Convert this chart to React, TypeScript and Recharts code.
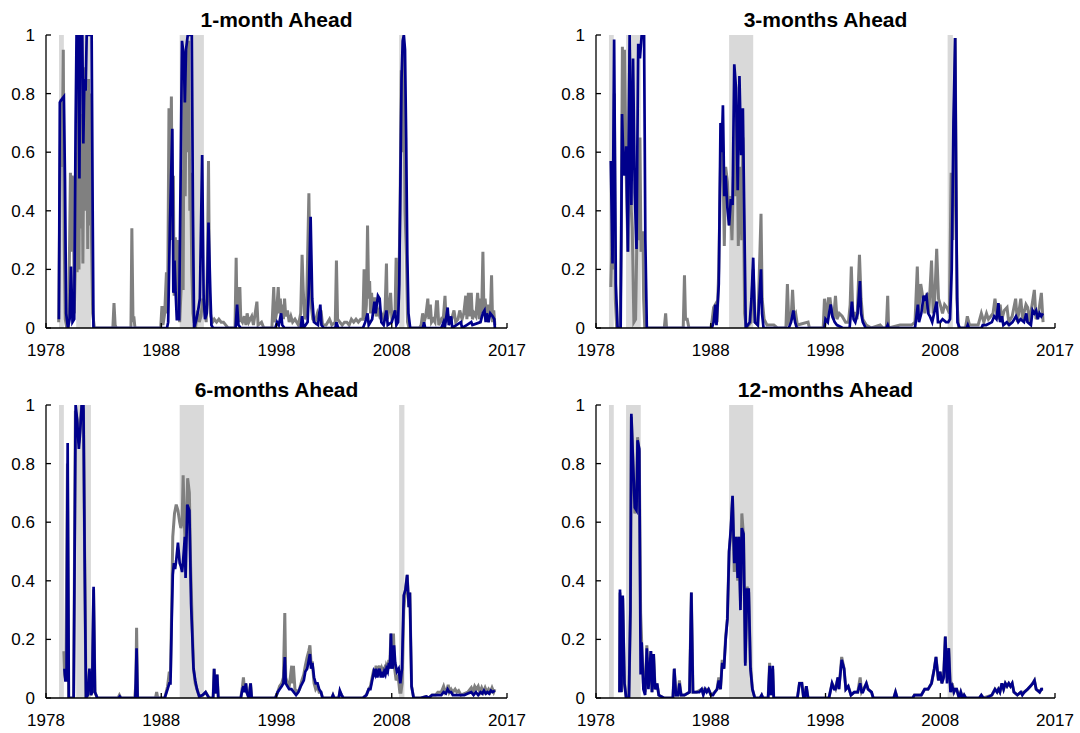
import React from "react";
import { LineChart, Line, XAxis, YAxis, ReferenceArea } from "recharts";

type Pt = [number, number];

const X_TICKS = [1978, 1988, 1998, 2008, 2018];
const X_LABELS = ["1978", "1988", "1998", "2008", "2017"];
const Y_TICKS = [0, 0.2, 0.4, 0.6, 0.8, 1];
const Y_LABELS = ["0", "0.2", "0.4", "0.6", "0.8", "1"];

// shaded recession periods (start, end)
const RECESSIONS: Pt[] = [
  [1979.13, 1979.55],
  [1980.62, 1981.9],
  [1989.6, 1991.7],
  [2008.64, 2009.1],
];

const TITLES = ["1-month Ahead", "3-months Ahead", "6-months Ahead", "12-months Ahead"];

// 1-month ahead
const grey1m: Pt[] = [
  [1979.1, 0.02], [1979.2, 0.45], [1979.3, 0.78], [1979.4, 0.55], [1979.5, 0.95], [1979.58, 0.3], [1979.67, 0.03], [1979.8, 0], [1979.95, 0],
  [1980.05, 0.3], [1980.12, 0.53], [1980.2, 0.26], [1980.28, 0.52], [1980.37, 0.49], [1980.45, 0.05], [1980.53, 0.18], [1980.62, 0.6], [1980.7, 0.19],
  [1980.78, 0.85], [1980.86, 0.2], [1980.95, 0.88], [1981.03, 0.34], [1981.11, 0.73], [1981.2, 0.22], [1981.28, 0.63], [1981.36, 0.89], [1981.45, 0.4],
  [1981.53, 0.81], [1981.62, 0.27], [1981.7, 0.85], [1981.78, 0.35], [1981.87, 0.8], [1981.95, 0.3], [1982.05, 0.05], [1982.2, 0],
  [1983.8, 0], [1983.9, 0.085], [1984.0, 0.01], [1984.1, 0],
  [1985.37, 0], [1985.45, 0.34], [1985.55, 0.02], [1985.62, 0.04], [1985.72, 0],
  [1987.95, 0], [1988.06, 0.075], [1988.15, 0.01], [1988.3, 0.05], [1988.45, 0.19], [1988.55, 0.05], [1988.67, 0.75], [1988.75, 0.4], [1988.88, 0.79],
  [1988.96, 0.3], [1989.05, 0.52], [1989.12, 0.11], [1989.22, 0.31], [1989.3, 0.13], [1989.4, 0.3], [1989.5, 0.05], [1989.6, 0.02], [1989.72, 0.13],
  [1989.82, 0.54], [1989.9, 0.13], [1989.98, 0.87], [1990.08, 0.45], [1990.18, 0.95], [1990.28, 0.6], [1990.38, 0.98], [1990.48, 0.4], [1990.55, 0.53],
  [1990.65, 0.2], [1990.75, 0.05], [1990.85, 0.02], [1991.0, 0.01], [1991.15, 0.06], [1991.3, 0.02], [1991.45, 0.04], [1991.6, 0.1], [1991.75, 0.07],
  [1991.9, 0.02], [1992.02, 0.25], [1992.1, 0.57], [1992.2, 0.08], [1992.3, 0.04], [1992.45, 0.02], [1992.6, 0.03], [1992.8, 0.02], [1993.0, 0.03],
  [1993.2, 0.02], [1993.4, 0.02], [1993.6, 0.01], [1993.8, 0],
  [1994.4, 0], [1994.5, 0.24], [1994.58, 0.03], [1994.66, 0.14], [1994.74, 0.02], [1994.82, 0.14], [1994.9, 0.03], [1995.05, 0.02], [1995.2, 0.04],
  [1995.35, 0.01], [1995.45, 0.05], [1995.6, 0.02], [1995.85, 0.04], [1996.0, 0.01], [1996.3, 0.09], [1996.4, 0.01], [1996.7, 0.02], [1996.9, 0],
  [1997.6, 0], [1997.76, 0.14], [1997.86, 0.02], [1998.0, 0.05], [1998.15, 0.14], [1998.25, 0.05], [1998.33, 0.1], [1998.42, 0.04], [1998.5, 0.08],
  [1998.6, 0.03], [1998.7, 0.1], [1998.8, 0.04], [1998.95, 0.06], [1999.1, 0.02], [1999.25, 0.04], [1999.4, 0.02], [1999.6, 0.03], [1999.9, 0.01],
  [2000.1, 0.05], [2000.22, 0.25], [2000.32, 0.13], [2000.45, 0.03], [2000.6, 0.05], [2000.81, 0.46], [2000.92, 0.15], [2001.0, 0.08], [2001.15, 0.03],
  [2001.35, 0.02], [2001.55, 0.05], [2001.7, 0.03], [2001.86, 0.06], [2002.0, 0.01], [2002.3, 0.01], [2002.6, 0.03], [2002.8, 0.01], [2003.1, 0.02],
  [2003.2, 0.23], [2003.3, 0.03], [2003.5, 0.02], [2003.7, 0.01], [2003.9, 0.02], [2004.1, 0.02], [2004.3, 0.01], [2004.5, 0.03], [2004.7, 0.02],
  [2004.9, 0.03], [2005.1, 0.02], [2005.3, 0.03], [2005.5, 0.03], [2005.6, 0.2], [2005.7, 0.03], [2005.8, 0.08], [2005.9, 0.35], [2006.0, 0.1],
  [2006.08, 0.16], [2006.16, 0.05], [2006.25, 0.12], [2006.35, 0.05], [2006.45, 0.1], [2006.55, 0.1], [2006.65, 0.04], [2006.8, 0.06], [2006.95, 0.04],
  [2007.1, 0.05], [2007.3, 0.03], [2007.42, 0.06], [2007.54, 0.22], [2007.62, 0.03], [2007.75, 0.06], [2007.9, 0.12], [2008.0, 0.04], [2008.15, 0.05],
  [2008.28, 0.04], [2008.38, 0.24], [2008.48, 0.05], [2008.6, 0.1], [2008.72, 0.4], [2008.83, 0.88], [2008.95, 0.6], [2009.05, 0.95], [2009.15, 0.4],
  [2009.27, 0.25], [2009.37, 0.02], [2009.5, 0],
  [2010.4, 0], [2010.55, 0.01], [2010.68, 0.05], [2010.8, 0.02], [2010.95, 0.04], [2011.13, 0.1], [2011.22, 0.03], [2011.35, 0.08], [2011.45, 0.02],
  [2011.6, 0.03], [2011.75, 0.02], [2011.88, 0.09], [2011.97, 0.09], [2012.08, 0.01], [2012.3, 0.03], [2012.45, 0.02], [2012.62, 0.11], [2012.72, 0.02],
  [2012.9, 0.04], [2013.05, 0.02], [2013.2, 0.03], [2013.4, 0.06], [2013.55, 0.02], [2013.75, 0.03], [2013.9, 0.06], [2014.1, 0.03], [2014.25, 0.05],
  [2014.42, 0.11], [2014.52, 0.03], [2014.65, 0.12], [2014.75, 0.04], [2014.9, 0.12], [2015.0, 0.03], [2015.15, 0.05], [2015.3, 0.04], [2015.45, 0.12],
  [2015.6, 0.03], [2015.7, 0.1], [2015.8, 0.05], [2015.91, 0.26], [2016.0, 0.05], [2016.1, 0.1], [2016.25, 0.03], [2016.4, 0.08], [2016.55, 0.04],
  [2016.66, 0.18], [2016.75, 0.02], [2016.85, 0.06], [2016.95, 0.01],
];

const blue1m: Pt[] = [
  [1979.12, 0.03], [1979.2, 0.77], [1979.35, 0.78], [1979.55, 0.79], [1979.65, 0.5], [1979.75, 0.05], [1979.9, 0], [1980.05, 0.03], [1980.17, 0.21],
  [1980.3, 0.02], [1980.45, 0.03], [1980.57, 0.7], [1980.65, 1], [1980.8, 1], [1980.9, 0.51], [1980.97, 1], [1981.15, 1], [1981.24, 0.63],
  [1981.33, 0.85], [1981.44, 0.81], [1981.53, 1], [1981.96, 1], [1982.05, 0.4], [1982.12, 0],
  [1988.5, 0], [1988.6, 0.02], [1988.75, 0.35], [1988.96, 0.68], [1989.05, 0.12], [1989.15, 0.23], [1989.25, 0.12], [1989.35, 0.03], [1989.55, 0.03],
  [1989.7, 0.6], [1989.8, 0.98], [1989.95, 0.93], [1990.05, 0.77], [1990.15, 0.95], [1990.3, 1], [1990.65, 1], [1990.75, 0.4], [1990.85, 0],
  [1991.05, 0.03], [1991.2, 0.06], [1991.35, 0.1], [1991.55, 0.59], [1991.68, 0.1], [1991.8, 0.03], [1991.95, 0.05], [1992.1, 0.36], [1992.26, 0.12],
  [1992.35, 0.01], [1992.5, 0],
  [1994.45, 0], [1994.58, 0.08], [1994.7, 0.01], [1994.9, 0],
  [1997.9, 0], [1998.05, 0.02], [1998.2, 0.01], [1998.4, 0.05], [1998.5, 0.01], [1998.7, 0],
  [2000.1, 0], [2000.22, 0.04], [2000.35, 0], [2000.7, 0.02], [2000.82, 0.15], [2000.96, 0.38], [2001.1, 0.1], [2001.25, 0.02], [2001.6, 0.01],
  [2001.8, 0.08], [2001.9, 0.01], [2002.1, 0],
  [2003.1, 0], [2003.2, 0.02], [2003.35, 0],
  [2005.5, 0], [2005.7, 0.02], [2005.9, 0.05], [2006.0, 0.01], [2006.3, 0.03], [2006.5, 0.09], [2006.6, 0.05], [2006.8, 0.11], [2006.95, 0.1],
  [2007.1, 0.02], [2007.3, 0.01], [2007.54, 0.06], [2007.65, 0.01], [2008.0, 0.02], [2008.29, 0.06], [2008.4, 0.01], [2008.55, 0.02], [2008.65, 0.15],
  [2008.75, 0.5], [2008.85, 0.85], [2008.95, 0.98], [2009.05, 1], [2009.15, 0.95], [2009.25, 0.65], [2009.35, 0.25], [2009.45, 0.05], [2009.6, 0],
  [2010.7, 0], [2010.8, 0.02], [2010.9, 0], [2012.3, 0], [2012.5, 0.02], [2012.6, 0], [2012.85, 0.07], [2012.95, 0.01], [2013.15, 0.04], [2013.25, 0],
  [2013.6, 0.01], [2014.0, 0.02], [2014.1, 0], [2014.5, 0.01], [2014.9, 0.02], [2015.0, 0.01], [2015.7, 0.02], [2015.9, 0.05], [2016.05, 0.06],
  [2016.15, 0.02], [2016.25, 0.05], [2016.4, 0.02], [2016.55, 0.05], [2016.75, 0.04], [2016.9, 0.03], [2016.95, 0],
];

// 3-months ahead
const grey3m: Pt[] = [
  [1979.29, 0.14], [1979.36, 0.25], [1979.44, 0.57], [1979.52, 0.2], [1979.6, 0.8], [1979.68, 0.1], [1979.8, 0], [1980.1, 0], [1980.2, 0.3],
  [1980.3, 0.96], [1980.4, 0.6], [1980.48, 0.95], [1980.63, 0.53], [1980.78, 0.26], [1980.86, 0.7], [1980.93, 0.95], [1981.0, 0.5], [1981.08, 0.4],
  [1981.16, 0.34], [1981.3, 0.02], [1981.45, 0.03], [1981.62, 0.44], [1981.72, 0.3], [1981.83, 0.65], [1981.92, 0.26], [1982.08, 0.33], [1982.15, 0.1],
  [1982.25, 0],
  [1983.95, 0], [1984.07, 0.05], [1984.15, 0], [1985.6, 0], [1985.71, 0.18], [1985.8, 0.03], [1985.95, 0.03], [1986.1, 0],
  [1988.0, 0], [1988.1, 0.02], [1988.25, 0.07], [1988.4, 0.08], [1988.55, 0.02], [1988.7, 0.2], [1988.85, 0.55], [1988.95, 0.7], [1989.06, 0.6],
  [1989.18, 0.28], [1989.3, 0.55], [1989.45, 0.5], [1989.6, 0.35], [1989.7, 0.45], [1989.85, 0.3], [1990.0, 0.55], [1990.1, 0.45], [1990.28, 0.75],
  [1990.4, 0.28], [1990.55, 0.55], [1990.7, 0.3], [1990.8, 0.65], [1990.95, 0.05], [1991.1, 0],
  [1991.5, 0.02], [1991.7, 0.2], [1991.85, 0.02], [1992.1, 0.01], [1992.38, 0.39], [1992.48, 0.1], [1992.65, 0.03], [1992.9, 0.01], [1993.5, 0.01],
  [1993.8, 0],
  [1994.55, 0], [1994.68, 0.15], [1994.8, 0.02], [1995.0, 0.03], [1995.13, 0.13], [1995.25, 0.04], [1995.4, 0.05], [1995.55, 0.01], [1996.48, 0.02],
  [1996.6, 0],
  [1997.8, 0], [1997.91, 0.1], [1998.05, 0.03], [1998.25, 0.1], [1998.4, 0.1], [1998.55, 0.05], [1998.7, 0.03], [1998.87, 0.11], [1999.0, 0.03],
  [1999.2, 0.05], [1999.45, 0.04], [1999.75, 0.02], [2000.0, 0.02], [2000.15, 0.08], [2000.25, 0.21], [2000.38, 0.05], [2000.55, 0.05], [2000.75, 0.03],
  [2000.96, 0.25], [2001.1, 0.1], [2001.25, 0.03], [2001.55, 0.01], [2002.0, 0],
  [2002.76, 0.01], [2003.0, 0], [2003.3, 0], [2003.42, 0.11], [2003.5, 0], [2004.5, 0.01], [2005.0, 0.01], [2005.5, 0.01], [2005.8, 0.02],
  [2006.0, 0.21], [2006.12, 0.05], [2006.3, 0.15], [2006.5, 0.1], [2006.65, 0.05], [2006.85, 0.12], [2007.0, 0.05], [2007.24, 0.23], [2007.38, 0.05],
  [2007.5, 0.08], [2007.69, 0.27], [2007.85, 0.1], [2008.0, 0.08], [2008.2, 0.05], [2008.38, 0.08], [2008.58, 0.07], [2008.8, 0.05], [2008.95, 0.53],
  [2009.1, 0.3], [2009.3, 0.99], [2009.45, 0.1], [2009.6, 0],
  [2010.2, 0], [2010.36, 0.04], [2010.55, 0.01], [2011.3, 0.01], [2011.58, 0.05], [2011.8, 0.02], [2012.03, 0.05], [2012.2, 0.03], [2012.6, 0.05],
  [2012.77, 0.1], [2012.98, 0.03], [2013.22, 0.08], [2013.37, 0.03], [2013.58, 0.06], [2013.82, 0.07], [2013.97, 0.02], [2014.27, 0.04],
  [2014.57, 0.1], [2014.72, 0.02], [2015.02, 0.1], [2015.17, 0.03], [2015.47, 0.08], [2015.62, 0.07], [2015.77, 0.02], [2016.2, 0.13],
  [2016.35, 0.03], [2016.56, 0.05], [2016.81, 0.12], [2016.96, 0.02],
];

const blue3m: Pt[] = [
  [1979.29, 0.57], [1979.44, 0.22], [1979.58, 0.985], [1979.73, 0.15], [1979.88, 0], [1980.15, 0], [1980.27, 0.73], [1980.4, 0.55], [1980.48, 0.52],
  [1980.63, 0.62], [1980.78, 0.26], [1980.93, 1], [1981.08, 0.42], [1981.23, 0.92], [1981.38, 0.46], [1981.53, 0.27], [1981.68, 0.97], [1981.83, 0.92],
  [1981.98, 1], [1982.19, 1], [1982.3, 0.3], [1982.43, 0],
  [1988.1, 0], [1988.25, 0.02], [1988.4, 0.08], [1988.5, 0.01], [1988.7, 0.15], [1988.85, 0.7], [1988.95, 0.6], [1989.06, 0.76], [1989.18, 0.45],
  [1989.3, 0.52], [1989.45, 0.41], [1989.6, 0.35], [1989.75, 0.44], [1989.9, 0.42], [1990.05, 0.9], [1990.2, 0.82], [1990.35, 0.47], [1990.5, 0.86],
  [1990.65, 0.59], [1990.8, 0.75], [1990.95, 0.3], [1991.05, 0], [1991.4, 0.02], [1991.55, 0.1], [1991.7, 0.24], [1991.85, 0.02], [1992.1, 0.01],
  [1992.38, 0.2], [1992.47, 0.05], [1992.6, 0],
  [1994.8, 0], [1995.0, 0.02], [1995.2, 0.06], [1995.35, 0.02], [1995.5, 0],
  [1997.9, 0], [1998.0, 0.03], [1998.2, 0.02], [1998.35, 0.06], [1998.45, 0.08], [1998.6, 0.04], [1998.8, 0.02], [1999.0, 0.01], [1999.5, 0],
  [2000.1, 0], [2000.3, 0.09], [2000.45, 0.03], [2000.6, 0.02], [2000.8, 0.05], [2001.0, 0.16], [2001.1, 0.05], [2001.25, 0.02], [2001.5, 0],
  [2003.3, 0], [2003.42, 0.01], [2003.5, 0],
  [2005.8, 0], [2006.05, 0.08], [2006.15, 0.02], [2006.35, 0.05], [2006.55, 0.11], [2006.65, 0.1], [2006.8, 0.11], [2006.95, 0.05], [2007.1, 0.04],
  [2007.3, 0.02], [2007.69, 0.09], [2007.8, 0.02], [2008.0, 0.02], [2008.2, 0.03], [2008.5, 0.02], [2008.7, 0.02], [2008.85, 0.03], [2009.0, 0.2],
  [2009.15, 0.7], [2009.3, 0.99], [2009.42, 0.3], [2009.5, 0.02], [2009.7, 0],
  [2010.3, 0], [2010.4, 0.01], [2010.5, 0], [2011.6, 0], [2011.7, 0.01], [2012.0, 0.01], [2012.5, 0.02], [2012.7, 0.04], [2012.9, 0.03],
  [2013.07, 0.085], [2013.15, 0.04], [2013.22, 0.02], [2013.37, 0.04], [2013.5, 0.01], [2013.8, 0.02], [2014.0, 0.01], [2014.3, 0.02], [2014.6, 0.04],
  [2014.8, 0.02], [2015.0, 0.03], [2015.3, 0.02], [2015.5, 0.05], [2015.6, 0.02], [2015.9, 0.01], [2016.05, 0.06], [2016.2, 0.05], [2016.35, 0.06],
  [2016.5, 0.03], [2016.65, 0.05], [2016.8, 0.04], [2016.95, 0.05],
];

// 6-months ahead
const grey6m: Pt[] = [
  [1979.55, 0.16], [1979.62, 0.08], [1979.72, 0.06], [1979.86, 0.8], [1979.96, 0], [1980.4, 0], [1980.55, 0.98], [1980.7, 0.95], [1980.85, 0.87],
  [1980.95, 0.92], [1981.1, 1], [1981.25, 0.98], [1981.35, 0.5], [1981.47, 0], [1981.62, 0.01], [1981.77, 0.09], [1981.9, 0.01], [1982.0, 0.02],
  [1982.13, 0.37], [1982.25, 0.02], [1982.45, 0],
  [1984.25, 0], [1984.37, 0.01], [1984.5, 0], [1985.7, 0], [1985.8, 0.05], [1985.86, 0.24], [1985.95, 0], [1987.5, 0], [1987.6, 0.02], [1987.7, 0],
  [1988.3, 0], [1988.55, 0.04], [1988.7, 0.09], [1988.8, 0.07], [1988.9, 0.3], [1989.0, 0.55], [1989.15, 0.63], [1989.3, 0.66], [1989.45, 0.64],
  [1989.6, 0.6], [1989.7, 0.58], [1989.81, 0.6], [1989.9, 0.76], [1990.0, 0.6], [1990.11, 0.5], [1990.2, 0.62], [1990.29, 0.75], [1990.44, 0.7],
  [1990.55, 0.45], [1990.71, 0.22], [1990.8, 0.1], [1990.95, 0.05], [1991.1, 0.03], [1991.3, 0.005], [1991.6, 0.01], [1991.85, 0.02], [1992.0, 0.01],
  [1992.15, 0],
  [1992.5, 0], [1992.59, 0.1], [1992.67, 0.02], [1992.74, 0.02], [1992.85, 0.08], [1992.95, 0],
  [1994.9, 0], [1995.05, 0.04], [1995.13, 0.07], [1995.22, 0.03], [1995.34, 0.05], [1995.42, 0.02], [1995.6, 0], [1995.75, 0.05], [1995.85, 0],
  [1997.9, 0], [1998.1, 0.02], [1998.27, 0.04], [1998.45, 0.05], [1998.6, 0.07], [1998.72, 0.29], [1998.8, 0.07], [1998.95, 0.05], [1999.1, 0.04],
  [1999.2, 0.07], [1999.32, 0.11], [1999.4, 0.05], [1999.47, 0.11], [1999.6, 0.03], [1999.8, 0.02], [2000.0, 0.03], [2000.2, 0.06], [2000.37, 0.08],
  [2000.5, 0.11], [2000.66, 0.14], [2000.8, 0.16], [2000.9, 0.18], [2001.0, 0.12], [2001.11, 0.12], [2001.26, 0.05], [2001.4, 0.03], [2001.56, 0.04],
  [2001.7, 0.02], [2001.86, 0.02], [2002.0, 0],
  [2002.8, 0], [2002.9, 0.01], [2003.0, 0], [2003.4, 0], [2003.5, 0.02], [2003.65, 0.01], [2003.8, 0],
  [2005.5, 0], [2005.8, 0.01], [2006.0, 0.03], [2006.15, 0.04], [2006.3, 0.07], [2006.45, 0.1], [2006.55, 0.08], [2006.64, 0.11], [2006.75, 0.09],
  [2006.85, 0.1], [2006.94, 0.11], [2007.05, 0.08], [2007.15, 0.1], [2007.24, 0.09], [2007.35, 0.1], [2007.45, 0.08], [2007.54, 0.11], [2007.65, 0.1],
  [2007.75, 0.13], [2007.84, 0.12], [2007.93, 0.22], [2008.0, 0.18], [2008.08, 0.14], [2008.15, 0.22], [2008.25, 0.1], [2008.38, 0.06], [2008.48, 0.07],
  [2008.59, 0.06], [2008.7, 0.02], [2008.8, 0.02], [2008.9, 0.05], [2009.04, 0.3], [2009.19, 0.37], [2009.34, 0.42], [2009.48, 0.31], [2009.57, 0.36],
  [2009.72, 0.04], [2009.9, 0],
  [2010.5, 0], [2011.0, 0.005], [2011.2, 0], [2011.5, 0.01], [2011.8, 0.01], [2012.0, 0.02], [2012.3, 0.02], [2012.5, 0.04], [2012.65, 0.02],
  [2012.8, 0.03], [2012.9, 0.045], [2013.0, 0.02], [2013.15, 0.03], [2013.3, 0.02], [2013.5, 0.03], [2013.65, 0.02], [2013.8, 0.025], [2014.0, 0.01],
  [2014.3, 0.015], [2014.6, 0.02], [2014.8, 0.03], [2014.9, 0.035], [2015.05, 0.02], [2015.2, 0.04], [2015.35, 0.03], [2015.5, 0.04], [2015.65, 0.02],
  [2015.8, 0.035], [2015.95, 0.02], [2016.1, 0.035], [2016.25, 0.02], [2016.4, 0.03], [2016.55, 0.02], [2016.7, 0.035], [2016.85, 0.02], [2016.95, 0.03],
];

const blue6m: Pt[] = [
  [1979.6, 0.1], [1979.68, 0.06], [1979.78, 0.06], [1979.88, 0.87], [1979.98, 0], [1980.4, 0], [1980.57, 1], [1980.7, 0.95], [1980.85, 0.85],
  [1980.95, 0.9], [1981.1, 1], [1981.25, 1], [1981.35, 0.5], [1981.47, 0], [1981.62, 0.01], [1981.77, 0.1], [1981.9, 0.01], [1982.0, 0.02],
  [1982.13, 0.38], [1982.25, 0.02], [1982.45, 0],
  [1984.3, 0], [1984.4, 0.005], [1984.5, 0], [1985.75, 0], [1985.86, 0.17], [1985.95, 0],
  [1988.3, 0], [1988.55, 0.03], [1988.7, 0.05], [1988.8, 0.05], [1988.9, 0.25], [1989.0, 0.42], [1989.1, 0.46], [1989.2, 0.44], [1989.3, 0.47],
  [1989.45, 0.53], [1989.6, 0.46], [1989.7, 0.45], [1989.81, 0.43], [1989.9, 0.47], [1990.05, 0.55], [1990.11, 0.41], [1990.26, 0.66], [1990.44, 0.64],
  [1990.59, 0.32], [1990.8, 0.1], [1990.95, 0.06], [1991.1, 0.03], [1991.3, 0.005], [1991.6, 0.01], [1991.85, 0.02], [1992.0, 0.01], [1992.15, 0],
  [1992.5, 0], [1992.59, 0.1], [1992.67, 0.02], [1992.74, 0.02], [1992.85, 0.08], [1992.95, 0],
  [1994.9, 0], [1995.05, 0.03], [1995.13, 0.04], [1995.22, 0.02], [1995.34, 0.05], [1995.42, 0.02], [1995.6, 0], [1995.75, 0.05], [1995.85, 0],
  [1997.9, 0], [1998.1, 0.02], [1998.27, 0.03], [1998.45, 0.04], [1998.6, 0.05], [1998.72, 0.14], [1998.8, 0.05], [1998.95, 0.04], [1999.1, 0.03],
  [1999.3, 0.03], [1999.5, 0.02], [1999.7, 0.01], [1999.9, 0.02], [2000.1, 0.04], [2000.37, 0.06], [2000.5, 0.09], [2000.66, 0.1], [2000.8, 0.13],
  [2000.9, 0.15], [2001.0, 0.1], [2001.11, 0.12], [2001.26, 0.07], [2001.4, 0.05], [2001.56, 0.05], [2001.7, 0.03], [2001.86, 0.02], [2002.0, 0],
  [2002.8, 0], [2002.9, 0.01], [2003.0, 0], [2003.4, 0], [2003.5, 0.025], [2003.65, 0.01], [2003.8, 0],
  [2005.5, 0], [2005.8, 0.01], [2006.0, 0.03], [2006.15, 0.03], [2006.3, 0.06], [2006.45, 0.09], [2006.55, 0.08], [2006.64, 0.1], [2006.75, 0.07],
  [2006.85, 0.09], [2006.94, 0.1], [2007.05, 0.07], [2007.15, 0.09], [2007.24, 0.07], [2007.35, 0.09], [2007.45, 0.08], [2007.54, 0.1], [2007.65, 0.09],
  [2007.75, 0.12], [2007.84, 0.1], [2007.93, 0.22], [2008.0, 0.12], [2008.08, 0.1], [2008.2, 0.18], [2008.3, 0.12], [2008.45, 0.09], [2008.6, 0.1],
  [2008.74, 0.05], [2008.89, 0.1], [2009.04, 0.35], [2009.19, 0.37], [2009.34, 0.42], [2009.48, 0.31], [2009.57, 0.36], [2009.72, 0.04], [2009.9, 0],
  [2010.5, 0], [2011.0, 0.005], [2011.2, 0], [2011.5, 0.01], [2011.8, 0.01], [2012.0, 0.01], [2012.3, 0.01], [2012.5, 0.02], [2012.7, 0.015],
  [2012.85, 0.03], [2013.0, 0.02], [2013.15, 0.02], [2013.3, 0.01], [2013.6, 0.01], [2013.8, 0.01], [2014.0, 0.01], [2014.3, 0.01], [2014.6, 0.015],
  [2014.9, 0.02], [2015.1, 0.01], [2015.3, 0.02], [2015.5, 0.01], [2015.7, 0.02], [2015.85, 0.015], [2016.0, 0.025], [2016.15, 0.015], [2016.3, 0.02],
  [2016.45, 0.015], [2016.6, 0.025], [2016.75, 0.02], [2016.95, 0.025],
];

// 12-months ahead
const grey12m: Pt[] = [
  [1980.05, 0.02], [1980.09, 0.36], [1980.21, 0.02], [1980.33, 0.34], [1980.48, 0.05], [1980.63, 0], [1980.87, 0], [1981.0, 0.3], [1981.08, 0.96],
  [1981.23, 0.8], [1981.38, 0.63], [1981.53, 0.66], [1981.62, 0.89], [1981.77, 0.84], [1981.89, 0.29], [1981.98, 0.19], [1982.13, 0.05], [1982.28, 0.02],
  [1982.43, 0.18], [1982.57, 0.04], [1982.78, 0.16], [1982.88, 0.02], [1983.02, 0.15], [1983.15, 0.03], [1983.32, 0.05], [1983.47, 0.01], [1983.92, 0],
  [1984.7, 0], [1984.82, 0.1], [1984.97, 0.01], [1985.15, 0.01], [1985.27, 0.06], [1985.42, 0.01], [1985.71, 0.01], [1986.15, 0.02], [1986.31, 0.36],
  [1986.45, 0.02], [1986.76, 0.02], [1987.21, 0.03], [1987.51, 0.03], [1987.81, 0.03], [1988.02, 0.01], [1988.35, 0.02], [1988.55, 0.03], [1988.7, 0.07],
  [1988.85, 0.03], [1989.0, 0.13], [1989.15, 0.1], [1989.3, 0.21], [1989.45, 0.27], [1989.6, 0.5], [1989.75, 0.56], [1989.9, 0.68], [1990.05, 0.43],
  [1990.2, 0.55], [1990.35, 0.4], [1990.45, 0.55], [1990.59, 0.33], [1990.71, 0.63], [1990.86, 0.55], [1991.01, 0.12], [1991.16, 0.38], [1991.31, 0.36],
  [1991.46, 0.11], [1991.63, 0.03], [1991.84, 0],
  [1992.3, 0], [1992.44, 0.01], [1992.55, 0], [1993.0, 0], [1993.13, 0.12], [1993.25, 0.01], [1993.4, 0.1], [1993.49, 0],
  [1995.55, 0], [1995.73, 0.05], [1995.94, 0.05], [1996.09, 0], [1996.33, 0.04], [1996.48, 0],
  [1998.3, 0], [1998.57, 0.05], [1998.87, 0.03], [1999.08, 0.07], [1999.17, 0.03], [1999.41, 0.14], [1999.62, 0.1], [1999.77, 0.03], [1999.98, 0.04],
  [2000.22, 0.01], [2000.51, 0.02], [2000.81, 0.02], [2001.02, 0.07], [2001.15, 0.02], [2001.45, 0.04], [2001.56, 0.05], [2001.71, 0.03], [2002.01, 0.02],
  [2002.16, 0],
  [2003.95, 0], [2004.1, 0.02], [2004.25, 0],
  [2005.6, 0], [2005.75, 0.01], [2006.35, 0.01], [2006.64, 0.03], [2006.94, 0.03], [2007.24, 0.05], [2007.48, 0.1], [2007.63, 0.14], [2007.84, 0.06],
  [2007.99, 0.09], [2008.14, 0.05], [2008.29, 0.07], [2008.44, 0.21], [2008.59, 0.07], [2008.74, 0.17], [2008.89, 0.03], [2009.04, 0.05], [2009.19, 0.02],
  [2009.3, 0.03], [2009.43, 0.03], [2009.64, 0], [2009.79, 0.02], [2009.95, 0], [2010.08, 0.01], [2010.23, 0],
  [2011.4, 0], [2011.58, 0.01], [2011.75, 0], [2012.5, 0.01], [2012.77, 0.03], [2012.95, 0.02], [2013.07, 0.03], [2013.2, 0.02], [2013.37, 0.05],
  [2013.52, 0.03], [2013.67, 0.05], [2013.82, 0.04], [2013.97, 0.05], [2014.12, 0.04], [2014.27, 0.05], [2014.42, 0.02], [2014.72, 0.01], [2015.02, 0.02],
  [2015.32, 0.02], [2015.61, 0.03], [2015.85, 0.04], [2016.06, 0.05], [2016.21, 0.06], [2016.36, 0.03], [2016.66, 0.02], [2016.81, 0.03], [2016.96, 0.03],
];

const blue12m: Pt[] = [
  [1980.05, 0.02], [1980.09, 0.37], [1980.21, 0.02], [1980.33, 0.35], [1980.48, 0.05], [1980.63, 0], [1980.87, 0], [1981.0, 0.3], [1981.08, 0.97],
  [1981.23, 0.8], [1981.38, 0.65], [1981.53, 0.64], [1981.62, 0.88], [1981.77, 0.85], [1981.89, 0.08], [1981.98, 0.19], [1982.13, 0.03], [1982.28, 0.01],
  [1982.43, 0.17], [1982.57, 0.03], [1982.78, 0.16], [1982.88, 0.02], [1983.02, 0.15], [1983.15, 0.03], [1983.32, 0.05], [1983.47, 0.01], [1983.92, 0],
  [1984.7, 0], [1984.82, 0.1], [1984.97, 0.01], [1985.15, 0.01], [1985.27, 0.05], [1985.42, 0.01], [1985.71, 0.01], [1986.15, 0.02], [1986.31, 0.36],
  [1986.45, 0.02], [1986.6, 0.02], [1986.76, 0.02], [1987.0, 0.02], [1987.21, 0.03], [1987.35, 0.01], [1987.51, 0.03], [1987.65, 0.02], [1987.81, 0.03],
  [1988.02, 0.01], [1988.2, 0.01], [1988.35, 0.02], [1988.55, 0.03], [1988.7, 0.06], [1988.85, 0.03], [1989.0, 0.12], [1989.15, 0.1], [1989.3, 0.2],
  [1989.45, 0.27], [1989.6, 0.5], [1989.75, 0.58], [1989.9, 0.69], [1990.05, 0.46], [1990.2, 0.55], [1990.35, 0.41], [1990.45, 0.55], [1990.59, 0.3],
  [1990.71, 0.58], [1990.86, 0.56], [1991.01, 0.11], [1991.16, 0.37], [1991.31, 0.37], [1991.46, 0.1], [1991.63, 0.03], [1991.84, 0],
  [1992.3, 0], [1992.44, 0.01], [1992.55, 0], [1993.0, 0], [1993.13, 0.11], [1993.25, 0.01], [1993.4, 0.11], [1993.49, 0],
  [1995.55, 0], [1995.73, 0.05], [1995.94, 0.05], [1996.09, 0], [1996.2, 0], [1996.33, 0.04], [1996.48, 0],
  [1998.3, 0], [1998.57, 0.05], [1998.75, 0.03], [1998.87, 0.03], [1999.08, 0.07], [1999.17, 0.03], [1999.41, 0.13], [1999.62, 0.1], [1999.77, 0.03],
  [1999.98, 0.04], [2000.22, 0.01], [2000.51, 0.02], [2000.81, 0.02], [2001.02, 0.05], [2001.15, 0.02], [2001.26, 0.02], [2001.45, 0.04], [2001.56, 0.05],
  [2001.71, 0.03], [2002.01, 0.02], [2002.16, 0],
  [2003.95, 0], [2004.1, 0.02], [2004.25, 0],
  [2005.6, 0], [2005.75, 0.01], [2006.35, 0.01], [2006.64, 0.03], [2006.94, 0.03], [2007.24, 0.05], [2007.48, 0.1], [2007.63, 0.14], [2007.84, 0.06],
  [2007.99, 0.09], [2008.14, 0.05], [2008.29, 0.07], [2008.44, 0.21], [2008.59, 0.05], [2008.74, 0.17], [2008.89, 0.02], [2009.04, 0.04], [2009.19, 0.02],
  [2009.3, 0.03], [2009.43, 0.03], [2009.64, 0], [2009.79, 0.02], [2009.95, 0], [2010.08, 0.01], [2010.23, 0],
  [2011.4, 0], [2011.58, 0.01], [2011.75, 0], [2012.03, 0], [2012.5, 0.01], [2012.77, 0.03], [2012.95, 0.02], [2013.07, 0.03], [2013.2, 0.02],
  [2013.37, 0.05], [2013.52, 0.03], [2013.67, 0.05], [2013.82, 0.04], [2013.97, 0.05], [2014.12, 0.04], [2014.27, 0.05], [2014.42, 0.02], [2014.72, 0.01],
  [2015.02, 0.02], [2015.15, 0.01], [2015.32, 0.02], [2015.61, 0.03], [2015.85, 0.04], [2016.06, 0.05], [2016.21, 0.06], [2016.36, 0.03], [2016.66, 0.02],
  [2016.81, 0.03], [2016.96, 0.03],
];

const FONT = "'Liberation Sans', Arial, Helvetica, sans-serif";
const GREY = "#808080";
const NAVY = "#00008B";

const toRows = (pts: Pt[]) => pts.map(([x, y]) => ({ x, y }));
const xLabel = (v: number) => X_LABELS[X_TICKS.indexOf(v)] ?? String(v);
const yLabel = (v: number) => Y_LABELS[Y_TICKS.indexOf(v)] ?? String(v);

function Panel({
  title,
  grey,
  blue,
  left,
  top,
  marginRight,
}: {
  title: string;
  grey: Pt[];
  blue: Pt[];
  left: number;
  top: number;
  marginRight: number;
}) {
  const plotW = 540 - 46 - marginRight;
  const axisStyle = { stroke: "#000", strokeWidth: 1.3 };
  const tickStyle = { fill: "#000", fontSize: 17, fontFamily: FONT };
  return (
    <div style={{ position: "absolute", left, top, width: 540, height: 370 }}>
      <div
        style={{
          position: "absolute",
          left: 46,
          width: plotW,
          top: 8,
          textAlign: "center",
          fontFamily: FONT,
          fontWeight: "bold",
          fontSize: 21,
          lineHeight: "24px",
        }}
      >
        {title}
      </div>
      <LineChart width={540} height={370} margin={{ top: 35, right: marginRight, bottom: 12, left: 6 }}>
        {RECESSIONS.map(([a, b], i) => (
          <ReferenceArea key={i} x1={a} x2={b} y1={0} y2={1} fill="#d9d9d9" fillOpacity={1} stroke="none" />
        ))}
        <XAxis
          type="number"
          dataKey="x"
          domain={[1978, 2018]}
          ticks={X_TICKS}
          tickFormatter={xLabel}
          allowDataOverflow
          height={30}
          tickSize={-5}
          tickMargin={21}
          axisLine={axisStyle}
          tickLine={axisStyle}
          tick={tickStyle}
          interval={0}
        />
        <XAxis
          xAxisId="top"
          orientation="top"
          type="number"
          dataKey="x"
          domain={[1978, 2018]}
          ticks={X_TICKS}
          tickFormatter={() => ""}
          allowDataOverflow
          height={0}
          tickSize={-5}
          axisLine={axisStyle}
          tickLine={axisStyle}
          interval={0}
        />
        <YAxis
          type="number"
          domain={[0, 1]}
          ticks={Y_TICKS}
          tickFormatter={yLabel}
          allowDataOverflow
          width={40}
          tickSize={-5}
          tickMargin={16}
          axisLine={axisStyle}
          tickLine={axisStyle}
          tick={tickStyle}
          interval={0}
        />
        <YAxis
          yAxisId="right"
          orientation="right"
          type="number"
          domain={[0, 1]}
          ticks={Y_TICKS}
          tickFormatter={() => ""}
          allowDataOverflow
          width={0}
          tickSize={-5}
          axisLine={axisStyle}
          tickLine={axisStyle}
          interval={0}
        />
        <Line
          data={toRows(grey)}
          dataKey="y"
          type="linear"
          stroke={GREY}
          strokeWidth={3}
          dot={false}
          isAnimationActive={false}
        />
        <Line
          data={toRows(blue)}
          dataKey="y"
          type="linear"
          stroke={NAVY}
          strokeWidth={2.7}
          dot={false}
          isAnimationActive={false}
        />
      </LineChart>
    </div>
  );
}

export default function App() {
  return (
    <div
      style={{
        position: "fixed",
        left: 0,
        top: 0,
        width: 1080,
        height: 733,
        overflow: "hidden",
        background: "#fff",
      }}
    >
      <Panel title={TITLES[0]} grey={grey1m} blue={blue1m} left={0} top={0} marginRight={33} />
      <Panel title={TITLES[1]} grey={grey3m} blue={blue3m} left={550} top={0} marginRight={35} />
      <Panel title={TITLES[2]} grey={grey6m} blue={blue6m} left={0} top={370} marginRight={33} />
      <Panel title={TITLES[3]} grey={grey12m} blue={blue12m} left={550} top={370} marginRight={35} />
    </div>
  );
}
